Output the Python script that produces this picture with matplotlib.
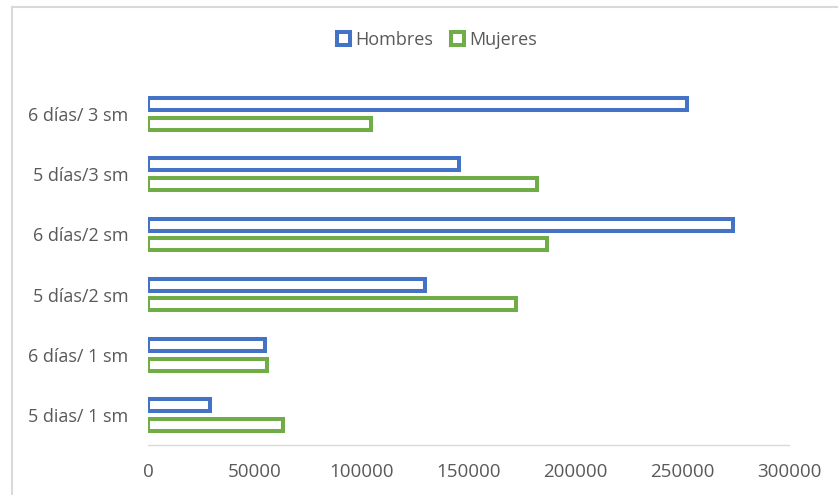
import matplotlib
matplotlib.use("Agg")
import matplotlib.pyplot as plt
from matplotlib.patches import Patch
from matplotlib.lines import Line2D
import numpy as np

categories = ["5 dias/ 1 sm", "6 días/ 1 sm", "5 días/2 sm", "6 días/2 sm", "5 días/3 sm", "6 días/ 3 sm"]
hombres = [29200, 54800, 129500, 273900, 145500, 252400]
mujeres = [63300, 55800, 172100, 186700, 182100, 104200]
xticks = [0, 50000, 100000, 150000, 200000, 250000, 300000]

BLUE = "#4472C4"
GREEN = "#70AD47"
TXT = "#595959"
GRID = "#D9D9D9"

plt.rcParams['font.family'] = ['Open Sans', 'DejaVu Sans']

W, H = 838, 495
fig = plt.figure(figsize=(W / 100, H / 100), dpi=100)
ax = fig.add_axes([148 / W, 1 - 445 / H, (789 - 148) / W, (445 - 84) / H])

y = np.arange(len(categories))
off = 0.163
bh = 0.2
lw = 2.9
ax.barh(y + off, hombres, height=bh, facecolor="white", edgecolor=BLUE, linewidth=lw, label="Hombres")
ax.barh(y - off, mujeres, height=bh, facecolor="white", edgecolor=GREEN, linewidth=lw, label="Mujeres")

ax.set_xlim(0, 300000)
ax.set_ylim(-0.5, len(categories) - 0.5)
ax.set_yticks(y)
ax.set_yticklabels(categories)
ax.set_xticks(xticks)
ax.set_xticklabels([str(v) for v in xticks])
ax.tick_params(axis='both', length=0, labelsize=13, labelcolor=TXT)
ax.tick_params(axis='x', labelsize=13.5)
ax.tick_params(axis='y', pad=14)
ax.tick_params(axis='x', pad=13)
for s in ["top", "right", "left"]:
    ax.spines[s].set_visible(False)
ax.spines["bottom"].set_color(GRID)
ax.spines["bottom"].set_linewidth(1.0)

handles = [Patch(facecolor="white", edgecolor=BLUE, linewidth=lw, label="Hombres"),
           Patch(facecolor="white", edgecolor=GREEN, linewidth=lw, label="Mujeres")]
leg = fig.legend(handles=handles, loc="center", bbox_to_anchor=(437 / W, 1 - 40 / H), ncol=2,
                 frameon=False, fontsize=13, handlelength=0.7, handleheight=0.7,
                 handletextpad=0.3, columnspacing=1.0, labelcolor=TXT)

# chart frame (partially visible)
fig.add_artist(Line2D([11.5 / W, 11.5 / W], [0, 1 - 7 / H], transform=fig.transFigure, color=GRID, linewidth=1.5))
fig.add_artist(Line2D([11.5 / W, 1], [1 - 7 / H, 1 - 7 / H], transform=fig.transFigure, color=GRID, linewidth=1.5))

fig.savefig("out.png", dpi=100)
